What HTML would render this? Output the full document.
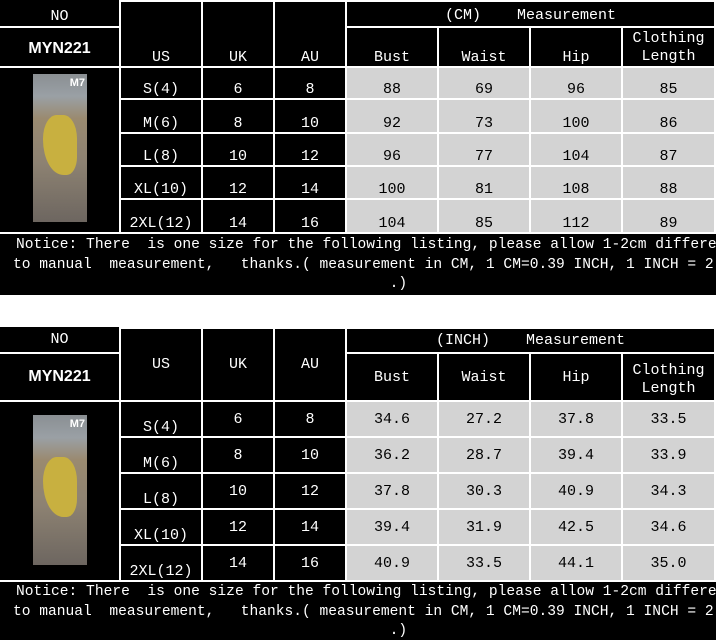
<!DOCTYPE html>
<html><head><meta charset="utf-8"><style>
body{margin:0;width:716px;height:642px;background:#fff;position:relative;overflow:hidden;font-family:"Liberation Mono","Noto Serif CJK SC",monospace;font-size:15px;color:#fff}
.c{position:absolute;background:#000;display:flex;justify-content:center;align-items:flex-end;box-sizing:border-box;white-space:nowrap;overflow:hidden}
.g{background:#d3d3d3;color:#000}
.m{align-items:center}
.s{font-family:"Liberation Sans",sans-serif;font-weight:bold;font-size:16px}
.n{position:absolute;left:0;width:716px;background:#000;font-size:14.6px;overflow:hidden;white-space:pre;line-height:19.5px;box-sizing:border-box;padding-left:13px}
.n b{font-weight:normal;padding-left:3px}
.img{position:absolute;width:54px;background:linear-gradient(#8a8f93 0%,#9aa0a5 15%,#9a8a70 30%,#8d8272 60%,#6d6660 100%)}
.img::before{content:"";position:absolute;left:10px;top:28%;width:34px;height:40%;background:#c8b040;border-radius:40% 40% 30% 60%}
.img::after{content:"M7";position:absolute;right:2px;top:3px;font:bold 11px "Liberation Sans",sans-serif;color:#fff}
</style></head><body>
<!-- TOP TABLE -->
<div class="c" style="left:0;top:0;width:119px;height:26px;padding-bottom:1px">NO</div>
<div class="c s" style="left:0;top:28px;width:119px;height:38px;align-items:flex-start;padding-top:12px">MYN221</div>
<div class="c" style="left:121px;top:2px;width:80px;height:64px;padding-bottom:0">US</div>
<div class="c" style="left:203px;top:2px;width:70px;height:64px">UK</div>
<div class="c" style="left:275px;top:2px;width:70px;height:64px">AU</div>
<div class="c" style="left:347px;top:2px;width:367px;height:24px;padding-bottom:2px">(CM)&nbsp;&nbsp;&nbsp;&nbsp;Measurement</div>
<div class="c" style="left:347px;top:28px;width:90px;height:38px">Bust</div>
<div class="c" style="left:439px;top:28px;width:90px;height:38px">Waist</div>
<div class="c" style="left:531px;top:28px;width:90px;height:38px">Hip</div>
<div class="c" style="left:623px;top:28px;width:91px;height:38px;line-height:18px;text-align:center">Clothing<br>Length</div>
<div class="c" style="left:0;top:68px;width:119px;height:164px"></div>
<div class="img" style="left:33px;top:74px;height:148px"></div>

<div class="c" style="left:121px;top:68px;width:80px;height:30px">S(4)</div>
<div class="c" style="left:203px;top:68px;width:70px;height:30px">6</div>
<div class="c" style="left:275px;top:68px;width:70px;height:30px">8</div>
<div class="c g" style="left:347px;top:68px;width:90px;height:30px">88</div>
<div class="c g" style="left:439px;top:68px;width:90px;height:30px">69</div>
<div class="c g" style="left:531px;top:68px;width:90px;height:30px">96</div>
<div class="c g" style="left:623px;top:68px;width:91px;height:30px">85</div>

<div class="c" style="left:121px;top:100px;width:80px;height:32px">M(6)</div>
<div class="c" style="left:203px;top:100px;width:70px;height:32px">8</div>
<div class="c" style="left:275px;top:100px;width:70px;height:32px">10</div>
<div class="c g" style="left:347px;top:100px;width:90px;height:32px">92</div>
<div class="c g" style="left:439px;top:100px;width:90px;height:32px">73</div>
<div class="c g" style="left:531px;top:100px;width:90px;height:32px">100</div>
<div class="c g" style="left:623px;top:100px;width:91px;height:32px">86</div>

<div class="c" style="left:121px;top:134px;width:80px;height:31px">L(8)</div>
<div class="c" style="left:203px;top:134px;width:70px;height:31px">10</div>
<div class="c" style="left:275px;top:134px;width:70px;height:31px">12</div>
<div class="c g" style="left:347px;top:134px;width:90px;height:31px">96</div>
<div class="c g" style="left:439px;top:134px;width:90px;height:31px">77</div>
<div class="c g" style="left:531px;top:134px;width:90px;height:31px">104</div>
<div class="c g" style="left:623px;top:134px;width:91px;height:31px">87</div>

<div class="c" style="left:121px;top:167px;width:80px;height:31px">XL(10)</div>
<div class="c" style="left:203px;top:167px;width:70px;height:31px">12</div>
<div class="c" style="left:275px;top:167px;width:70px;height:31px">14</div>
<div class="c g" style="left:347px;top:167px;width:90px;height:31px">100</div>
<div class="c g" style="left:439px;top:167px;width:90px;height:31px">81</div>
<div class="c g" style="left:531px;top:167px;width:90px;height:31px">108</div>
<div class="c g" style="left:623px;top:167px;width:91px;height:31px">88</div>

<div class="c" style="left:121px;top:200px;width:80px;height:32px">2XL(12)</div>
<div class="c" style="left:203px;top:200px;width:70px;height:32px">14</div>
<div class="c" style="left:275px;top:200px;width:70px;height:32px">16</div>
<div class="c g" style="left:347px;top:200px;width:90px;height:32px">104</div>
<div class="c g" style="left:439px;top:200px;width:90px;height:32px">85</div>
<div class="c g" style="left:531px;top:200px;width:90px;height:32px">112</div>
<div class="c g" style="left:623px;top:200px;width:91px;height:32px">89</div>

<div class="n" style="top:234px;height:61px;padding-top:2px"><b>Notice: There  is one size for the following listing, please allow 1-2cm difference due</b>
to manual  measurement,   thanks.( measurement in CM, 1 CM=0.39 INCH, 1 INCH = 2.54 CM
                                           .)</div>

<!-- BOTTOM TABLE -->
<div class="c m" style="left:0;top:327px;width:119px;height:25px">NO</div>
<div class="c s m" style="left:0;top:354px;width:119px;height:46px">MYN221</div>
<div class="c m" style="left:121px;top:329px;width:80px;height:71px">US</div>
<div class="c m" style="left:203px;top:329px;width:70px;height:71px">UK</div>
<div class="c m" style="left:275px;top:329px;width:70px;height:71px">AU</div>
<div class="c m" style="left:347px;top:329px;width:367px;height:23px">(INCH)&nbsp;&nbsp;&nbsp;&nbsp;Measurement</div>
<div class="c m" style="left:347px;top:354px;width:90px;height:46px">Bust</div>
<div class="c m" style="left:439px;top:354px;width:90px;height:46px">Waist</div>
<div class="c m" style="left:531px;top:354px;width:90px;height:46px">Hip</div>
<div class="c m" style="left:623px;top:354px;width:91px;height:46px;line-height:18px;text-align:center;padding-top:6px">Clothing<br>Length</div>
<div class="c" style="left:0;top:402px;width:119px;height:178px"></div>
<div class="img" style="left:33px;top:415px;height:150px"></div>

<div class="c" style="left:121px;top:402px;width:80px;height:34px">S(4)</div>
<div class="c m" style="left:203px;top:402px;width:70px;height:34px">6</div>
<div class="c m" style="left:275px;top:402px;width:70px;height:34px">8</div>
<div class="c g m" style="left:347px;top:402px;width:90px;height:34px">34.6</div>
<div class="c g m" style="left:439px;top:402px;width:90px;height:34px">27.2</div>
<div class="c g m" style="left:531px;top:402px;width:90px;height:34px">37.8</div>
<div class="c g m" style="left:623px;top:402px;width:91px;height:34px">33.5</div>

<div class="c" style="left:121px;top:438px;width:80px;height:34px">M(6)</div>
<div class="c m" style="left:203px;top:438px;width:70px;height:34px">8</div>
<div class="c m" style="left:275px;top:438px;width:70px;height:34px">10</div>
<div class="c g m" style="left:347px;top:438px;width:90px;height:34px">36.2</div>
<div class="c g m" style="left:439px;top:438px;width:90px;height:34px">28.7</div>
<div class="c g m" style="left:531px;top:438px;width:90px;height:34px">39.4</div>
<div class="c g m" style="left:623px;top:438px;width:91px;height:34px">33.9</div>

<div class="c" style="left:121px;top:474px;width:80px;height:34px">L(8)</div>
<div class="c m" style="left:203px;top:474px;width:70px;height:34px">10</div>
<div class="c m" style="left:275px;top:474px;width:70px;height:34px">12</div>
<div class="c g m" style="left:347px;top:474px;width:90px;height:34px">37.8</div>
<div class="c g m" style="left:439px;top:474px;width:90px;height:34px">30.3</div>
<div class="c g m" style="left:531px;top:474px;width:90px;height:34px">40.9</div>
<div class="c g m" style="left:623px;top:474px;width:91px;height:34px">34.3</div>

<div class="c" style="left:121px;top:510px;width:80px;height:34px">XL(10)</div>
<div class="c m" style="left:203px;top:510px;width:70px;height:34px">12</div>
<div class="c m" style="left:275px;top:510px;width:70px;height:34px">14</div>
<div class="c g m" style="left:347px;top:510px;width:90px;height:34px">39.4</div>
<div class="c g m" style="left:439px;top:510px;width:90px;height:34px">31.9</div>
<div class="c g m" style="left:531px;top:510px;width:90px;height:34px">42.5</div>
<div class="c g m" style="left:623px;top:510px;width:91px;height:34px">34.6</div>

<div class="c" style="left:121px;top:546px;width:80px;height:34px">2XL(12)</div>
<div class="c m" style="left:203px;top:546px;width:70px;height:34px">14</div>
<div class="c m" style="left:275px;top:546px;width:70px;height:34px">16</div>
<div class="c g m" style="left:347px;top:546px;width:90px;height:34px">40.9</div>
<div class="c g m" style="left:439px;top:546px;width:90px;height:34px">33.5</div>
<div class="c g m" style="left:531px;top:546px;width:90px;height:34px">44.1</div>
<div class="c g m" style="left:623px;top:546px;width:91px;height:34px">35.0</div>

<div class="n" style="top:582px;height:58px;padding-top:1px"><b>Notice: There  is one size for the following listing, please allow 1-2cm difference due</b>
to manual  measurement,   thanks.( measurement in CM, 1 CM=0.39 INCH, 1 INCH = 2.54 CM
                                           .)</div>
</body></html>
